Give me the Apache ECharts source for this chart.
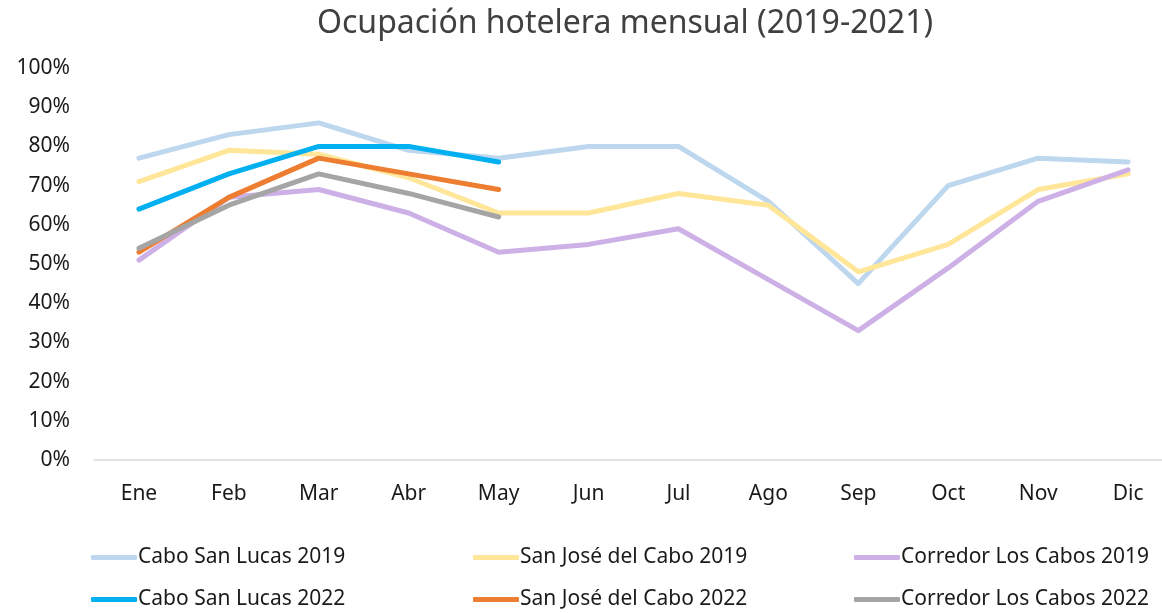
<!DOCTYPE html>
<html>
<head>
<meta charset="utf-8">
<script src="https://cdn.jsdelivr.net/npm/echarts@6/dist/echarts.min.js"></script>
<style>
  html, body { margin: 0; padding: 0; background: #fff; overflow: hidden; }
  #chart { width: 1185px; height: 613px; }
</style>
</head>
<body>
<div id="chart"></div>
<script>
const months = ['Ene', 'Feb', 'Mar', 'Abr', 'May', 'Jun', 'Jul', 'Ago', 'Sep', 'Oct', 'Nov', 'Dic']
const yTicks = [0, 10, 20, 30, 40, 50, 60, 70, 80, 90, 100]

const cabo2019 = [77, 83, 86, 79, 77, 80, 80, 66, 45, 70, 77, 76]
const sanJose2019 = [71, 79, 78, 72, 63, 63, 68, 65, 48, 55, 69, 73]
const corredor2019 = [51, 67, 69, 63, 53, 55, 59, 46, 33, 49, 66, 74]
const cabo2022 = [64, 73, 80, 80, 76]
const sanJose2022 = [53, 67, 77, 73, 69]
const corredor2022 = [54, 65, 73, 68, 62]

const seriesNames = [
  'Cabo San Lucas 2019', 'San José del Cabo 2019', 'Corredor Los Cabos 2019',
  'Cabo San Lucas 2022', 'San José del Cabo 2022', 'Corredor Los Cabos 2022'
]
const seriesData = [cabo2019, sanJose2019, corredor2019, cabo2022, sanJose2022, corredor2022]
const colors = ['#BDD7EE', '#FFE699', '#CDB0E6', '#00B0F0', '#ED7D31', '#A5A5A5']

const font = 'Noto Sans'
const chart = echarts.init(document.getElementById('chart'))

// one legend per item so the columns line up like the original
const legendLeft = [86, 468, 849]
const legendTop = [542, 584]
const legends = seriesNames.map((name, i) => ({
  data: [name],
  left: legendLeft[i % 3],
  top: legendTop[Math.floor(i / 3)],
  itemWidth: 46,
  itemHeight: 5,
  itemGap: 0,
  icon: 'roundRect',
  textStyle: { fontFamily: font, fontSize: 21, color: '#1a1a1a', padding: [0, 0, 0, -4] },
  selectedMode: false
}))

const option = {
  animation: false,
  color: colors,
  title: {
    text: 'Ocupación hotelera mensual (2019-2021)',
    left: 312,
    top: 3,
    textStyle: { fontFamily: font, fontSize: 32, fontWeight: 'normal', color: '#404040' }
  },
  legend: legends,
  grid: { left: 94, width: 1079, top: 68, bottom: 153, containLabel: false },
  xAxis: {
    type: 'category',
    data: months,
    boundaryGap: true,
    axisLine: { lineStyle: { color: '#D9D9D9', width: 1.5 } },
    axisTick: { show: false },
    axisLabel: { fontFamily: font, fontSize: 21, color: '#1a1a1a', margin: 24 }
  },
  yAxis: {
    type: 'value',
    min: yTicks[0],
    max: yTicks[yTicks.length - 1],
    interval: 10,
    splitLine: { show: false },
    axisLine: { show: false },
    axisTick: { show: false },
    axisLabel: { fontFamily: font, fontSize: 21, color: '#1a1a1a', margin: 24, formatter: '{value}%' }
  },
  series: seriesNames.map((name, i) => ({
    name: name,
    type: 'line',
    data: seriesData[i],
    showSymbol: false,
    symbol: 'none',
    lineStyle: { width: 5, color: colors[i], cap: 'round', join: 'round' },
    itemStyle: { color: colors[i] },
    z: i < 3 ? 2 : 3
  }))
}

chart.setOption(option)
</script>
</body>
</html>
